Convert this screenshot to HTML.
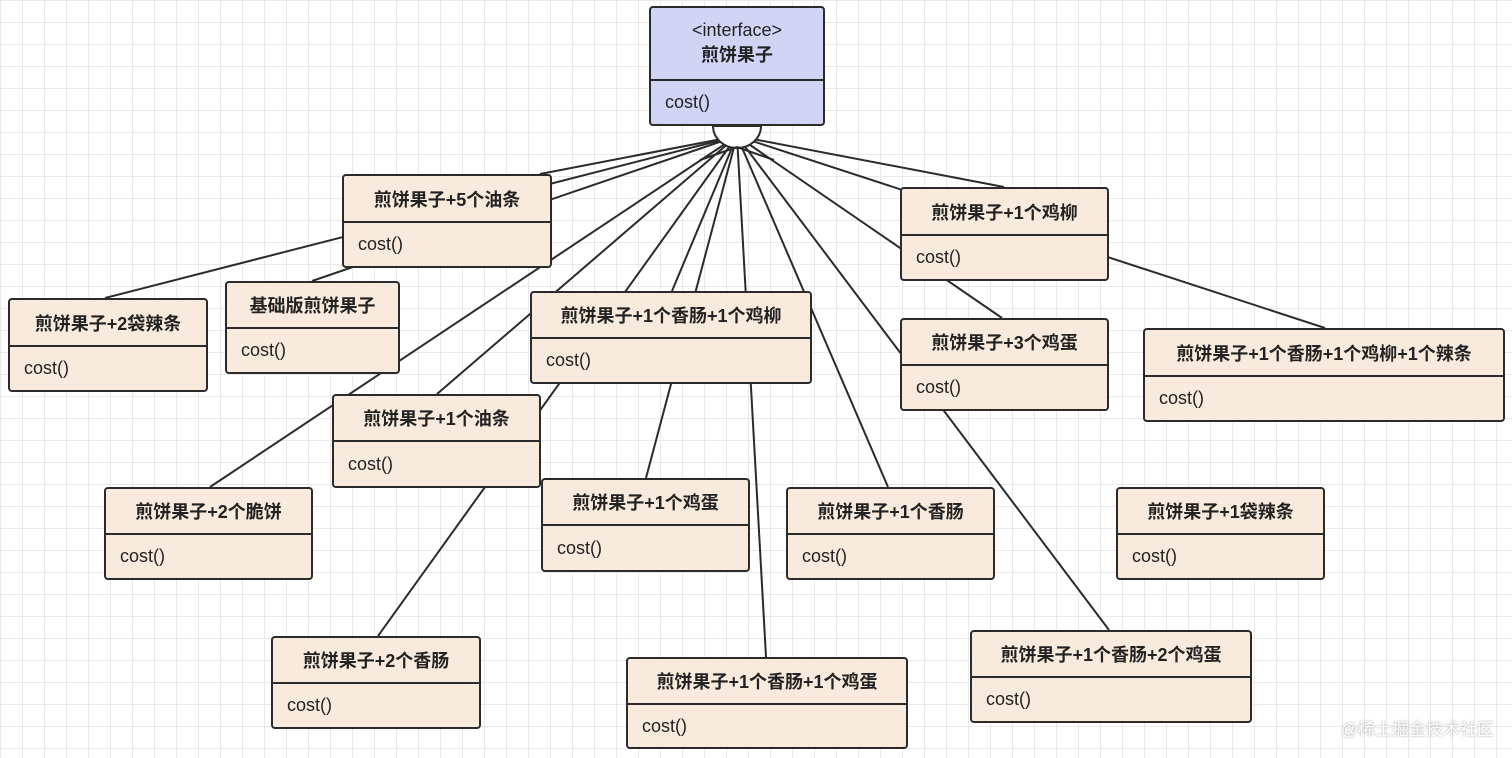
<!DOCTYPE html>
<html><head><meta charset="utf-8"><style>
html,body{margin:0;padding:0}
body{width:1512px;height:758px;position:relative;overflow:hidden;background:#fff;
background-image:linear-gradient(#e9e9e9 1px,transparent 1px),linear-gradient(90deg,#e9e9e9 1px,transparent 1px);background-size:22px 22px;
font-family:"Liberation Sans","Noto Sans CJK SC",sans-serif;color:#222}
.b{position:absolute;box-sizing:border-box;border:2px solid #2b2b2b;border-radius:4px;background:#f8eadc}
.b .t{box-sizing:border-box;border-bottom:2px solid #2b2b2b;display:flex;align-items:center;justify-content:center;font-weight:bold;font-size:18px}
.b .c{padding-left:14px;font-size:18px;display:flex;align-items:center}
svg{position:absolute;left:0;top:0}
.wm{position:absolute;right:18px;bottom:18px;font-size:17px;color:#fff;text-shadow:0 0 2px #999}
</style></head><body>
<svg width="1512" height="758">
<g stroke="#2b2b2b" stroke-width="2">
<line x1="105" y1="298" x2="737" y2="136"/>
<line x1="312" y1="281" x2="737" y2="136"/>
<line x1="540" y1="174" x2="737" y2="136"/>
<line x1="210" y1="487" x2="737" y2="136"/>
<line x1="437" y1="394" x2="737" y2="136"/>
<line x1="378" y1="636" x2="737" y2="136"/>
<line x1="672" y1="291" x2="737" y2="136"/>
<line x1="646" y1="478" x2="737" y2="136"/>
<line x1="766" y1="657" x2="737" y2="136"/>
<line x1="888" y1="487" x2="737" y2="136"/>
<line x1="1109" y1="630" x2="737" y2="136"/>
<line x1="1002" y1="318" x2="737" y2="136"/>
<line x1="1325" y1="328" x2="737" y2="136"/>
<line x1="1004" y1="187" x2="737" y2="136"/>
</g>
<path d="M713,126 A24 22 0 0 0 761,126 Z" fill="#fff" stroke="#2b2b2b" stroke-width="2"/>
<g stroke="#2b2b2b" stroke-width="2">
<line x1="737" y1="147" x2="700" y2="160"/><line x1="737" y1="147" x2="774" y2="160"/>
</g>
</svg>
<div class="b" style="left:649px;top:6px;width:176px;height:120px;background:#d2d4f6"><div class="t" style="height:73px;flex-direction:column;font-weight:normal"><span>&lt;interface&gt;</span><span style="font-weight:bold">煎饼果子</span></div><div class="c" style="height:43px">cost()</div></div>
<div class="b" style="left:342px;top:174px;width:210px;height:94px"><div class="t" style="height:47px">煎饼果子+5个油条</div><div class="c" style="height:43px">cost()</div></div>
<div class="b" style="left:900px;top:187px;width:209px;height:94px"><div class="t" style="height:47px">煎饼果子+1个鸡柳</div><div class="c" style="height:43px">cost()</div></div>
<div class="b" style="left:8px;top:298px;width:200px;height:94px"><div class="t" style="height:47px">煎饼果子+2袋辣条</div><div class="c" style="height:43px">cost()</div></div>
<div class="b" style="left:225px;top:281px;width:175px;height:93px"><div class="t" style="height:46px">基础版煎饼果子</div><div class="c" style="height:43px">cost()</div></div>
<div class="b" style="left:530px;top:291px;width:282px;height:93px"><div class="t" style="height:46px">煎饼果子+1个香肠+1个鸡柳</div><div class="c" style="height:43px">cost()</div></div>
<div class="b" style="left:900px;top:318px;width:209px;height:93px"><div class="t" style="height:46px">煎饼果子+3个鸡蛋</div><div class="c" style="height:43px">cost()</div></div>
<div class="b" style="left:1143px;top:328px;width:362px;height:94px"><div class="t" style="height:47px">煎饼果子+1个香肠+1个鸡柳+1个辣条</div><div class="c" style="height:43px">cost()</div></div>
<div class="b" style="left:332px;top:394px;width:209px;height:94px"><div class="t" style="height:46px">煎饼果子+1个油条</div><div class="c" style="height:44px">cost()</div></div>
<div class="b" style="left:104px;top:487px;width:209px;height:93px"><div class="t" style="height:46px">煎饼果子+2个脆饼</div><div class="c" style="height:43px">cost()</div></div>
<div class="b" style="left:541px;top:478px;width:209px;height:94px"><div class="t" style="height:46px">煎饼果子+1个鸡蛋</div><div class="c" style="height:44px">cost()</div></div>
<div class="b" style="left:786px;top:487px;width:209px;height:93px"><div class="t" style="height:46px">煎饼果子+1个香肠</div><div class="c" style="height:43px">cost()</div></div>
<div class="b" style="left:1116px;top:487px;width:209px;height:93px"><div class="t" style="height:46px">煎饼果子+1袋辣条</div><div class="c" style="height:43px">cost()</div></div>
<div class="b" style="left:271px;top:636px;width:210px;height:93px"><div class="t" style="height:46px">煎饼果子+2个香肠</div><div class="c" style="height:43px">cost()</div></div>
<div class="b" style="left:626px;top:657px;width:282px;height:92px"><div class="t" style="height:46px">煎饼果子+1个香肠+1个鸡蛋</div><div class="c" style="height:42px">cost()</div></div>
<div class="b" style="left:970px;top:630px;width:282px;height:93px"><div class="t" style="height:46px">煎饼果子+1个香肠+2个鸡蛋</div><div class="c" style="height:43px">cost()</div></div>
<div class="wm">@稀土掘金技术社区</div>
</body></html>
